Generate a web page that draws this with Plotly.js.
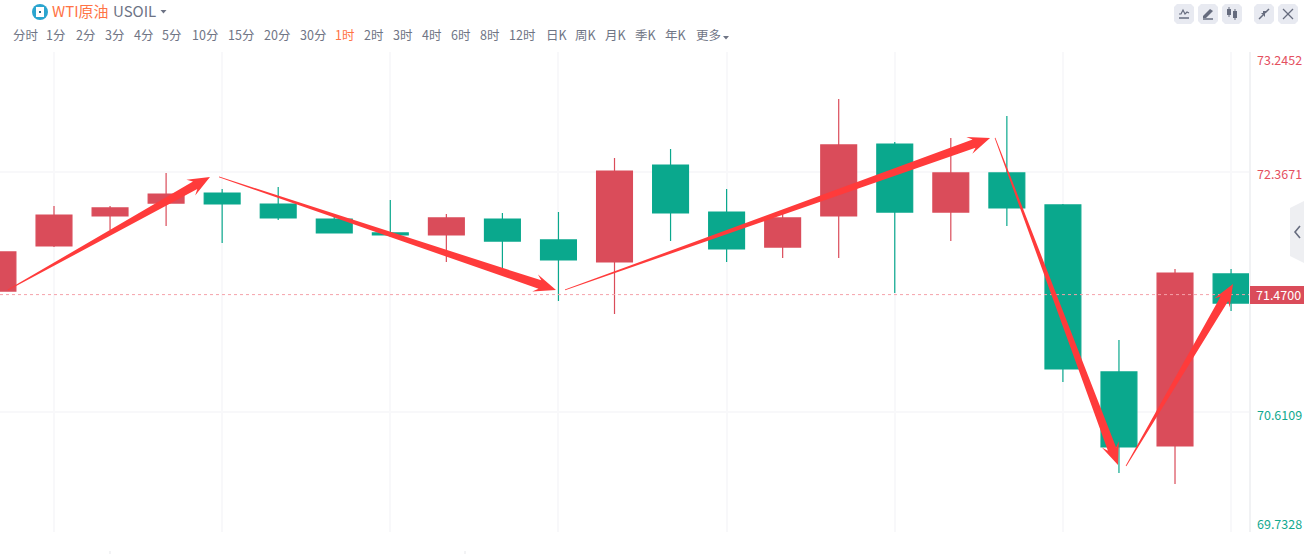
<!DOCTYPE html>
<html><head><meta charset="utf-8">
<script src="https://cdn.plot.ly/plotly-3.0.1.min.js"></script>
<style>html,body{margin:0;padding:0;background:#fff;overflow:hidden}#c{width:1304px;height:554px}</style>
</head><body><div id="c"></div>
<script>
// ---- data ----
const candleIndex = [0,1,2,3,4,5,6,7,8,9,10,11,12,13,14,15,16,17,18,19,20,21,22];
const opens  = [71.496,71.826,72.045,72.140,72.213,72.133,72.023,71.921,71.906,72.023,71.870,71.709,72.418,72.074,71.818,72.045,72.572,72.074,72.360,72.126,70.904,70.362,71.621];
const closes = [71.782,72.052,72.104,72.206,72.133,72.031,71.921,71.906,72.031,71.862,71.723,72.374,72.067,71.804,72.031,72.565,72.074,72.360,72.104,70.926,70.355,71.628,71.408];
const highs  = [71.782,72.118,72.118,72.360,72.243,72.257,72.052,72.162,72.060,72.067,72.074,72.470,72.535,72.243,72.089,72.901,72.587,72.616,72.777,72.133,71.138,71.657,71.657];
const lows   = [71.496,71.818,71.943,71.972,71.848,72.016,71.921,71.891,71.709,71.665,71.423,71.328,71.862,71.709,71.738,71.738,71.482,71.862,71.972,70.830,70.165,70.084,71.350];
const priceTicks = [73.2452,72.3671,70.6109,69.7328];
const priceLabels = ["73.2452","72.3671","70.6109","69.7328"];
const lastPrice = 71.47;
const gridX = [1,4,7,10,13,16,19,22];
const tabs = ["分时","1分","2分","3分","4分","5分","10分","15分","20分","30分","1时","2时","3时","4时","6时","8时","12时","日K","周K","月K","季K","年K","更多"];
const arrowFromX = [0.179,3.944,10.117,17.789,20.126];
const arrowFromY = [71.504,72.331,71.504,72.616,70.216];
const arrowToX   = [3.783,9.956,17.70,19.983,22.035];
const arrowToY   = [72.331,71.504,72.616,70.223,71.547];

// ---- layout helpers ----
const W=1304,H=554,L=0,R=1249,T=52,B=532;
const xMin=0.0366,xMax=22.32,yMin=69.7328,yMax=73.2452;
const px=i=>L+(i-xMin)/(xMax-xMin)*(R-L), py=v=>B-(v-yMin)/(yMax-yMin)*(B-T);
const ix=p=>xMin+(p-L)/(R-L)*(xMax-xMin), iy=p=>yMin+(B-p)/(B-T)*(yMax-yMin);
const ppx=x=>(x-L)/(R-L), ppy=y=>(B-y)/(B-T);
const pth=(pts,close)=>pts.map((p,i)=>(i?'L':'M')+ppx(p[0]).toFixed(5)+' '+ppy(p[1]).toFixed(5)).join(' ')+(close?' Z':'');
const shapes=[],ann=[];
const RED='#da4c5a',GREEN='#0aa88d',ICON='#666c7e',BTN='#e8eaf1';
const FONT='"Noto Sans CJK SC","Noto Sans",sans-serif';

// last price line + tag
shapes.push({type:'line',xref:'paper',yref:'y',x0:0,x1:1,y0:lastPrice,y1:lastPrice,line:{color:'#f5a3ab',width:1,dash:'3px,3px'},layer:'above'});
shapes.push({type:'rect',xref:'paper',yref:'paper',x0:ppx(1250),x1:ppx(1304),y0:ppy(304),y1:ppy(286),fillcolor:RED,line:{width:0},layer:'above'});
ann.push({xref:'paper',yref:'paper',x:ppx(1278),y:ppy(294),text:lastPrice.toFixed(4),showarrow:false,xanchor:'center',yanchor:'middle',font:{family:FONT,size:12.5,color:'#fff'}});

// axis labels
const labelShift=[-7,-1,-2,9];
priceTicks.forEach((v,i)=>ann.push({xref:'paper',yref:'y',x:ppx(1254.5),y:v,yshift:labelShift[i],text:priceLabels[i],showarrow:false,xanchor:'left',yanchor:'middle',
  font:{family:FONT,size:12.5,color:v>lastPrice?'#e4505f':'#12a98f'}}));

// arrows
arrowFromX.forEach((_,i)=>{
  const x0=px(arrowFromX[i]),y0=py(arrowFromY[i]),x1=px(arrowToX[i]),y1=py(arrowToY[i]);
  const d=Math.hypot(x1-x0,y1-y0),ux=(x1-x0)/d,uy=(y1-y0)/d,nx=-uy,ny=ux;
  const headLen=22,neck=4.4,back=9,tail=0.4;
  const at=(t,s)=>[x0+ux*t+nx*s,y0+uy*t+ny*s];
  const poly=[at(0,tail),at(d-headLen+5,neck),at(d-headLen,back),at(d,0),at(d-headLen,-back),at(d-headLen+5,-neck),at(0,-tail)];
  shapes.push({type:'path',xref:'x',yref:'y',layer:'above',fillcolor:'#ff3b3b',line:{width:0},
    path:poly.map((p,k)=>(k?'L':'M')+ix(p[0]).toFixed(4)+' '+iy(p[1]).toFixed(4)).join(' ')+' Z'});
});

// header
shapes.push({type:'circle',xref:'paper',yref:'paper',x0:ppx(32),x1:ppx(48),y0:ppy(20),y1:ppy(4),fillcolor:'#2ba5cf',line:{width:0},layer:'above'});
shapes.push({type:'rect',xref:'paper',yref:'paper',x0:ppx(36),x1:ppx(44),y0:ppy(17),y1:ppy(7),fillcolor:'#fff',line:{width:0},layer:'above'});
shapes.push({type:'rect',xref:'paper',yref:'paper',x0:ppx(39),x1:ppx(41),y0:ppy(13),y1:ppy(11),fillcolor:'#2b6f8f',line:{width:0},layer:'above'});
const txt=(x,y,t,size,color,anchor)=>ann.push({xref:'paper',yref:'paper',x:ppx(x),y:ppy(y),text:t,showarrow:false,xanchor:anchor||'left',yanchor:'middle',font:{family:FONT,size:size,color:color}});
txt(49.5,10,'WTI原油',15,'#ff7345');
txt(111,10,'USOIL',15,'#6d7385');
const tri=(x,y,w,h,c)=>shapes.push({type:'path',xref:'paper',yref:'paper',layer:'above',fillcolor:c,line:{width:0},path:pth([[x,y],[x+w,y],[x+w/2,y+h]],true)});
tri(160.5,10,6,3.5,'#6d7385');
const tabCenters=[25.5,56,85,114,143,172,204.5,241,277,312.5,345,374,403,432,461,490,522.5,556.5,586,616,646,676,708.5];
tabs.forEach((t,i)=>txt(tabCenters[i],34.5,t,12.5,t==='1时'?'#ff7345':'#6f7585','center'));
tri(723,36,6,3.5,'#6f7585');

// toolbar buttons
[1174,1198,1222,1254,1278].forEach(x=>shapes.push({type:'path',xref:'paper',yref:'paper',layer:'above',fillcolor:BTN,line:{width:0},
  path:pth([[x+3,4],[x+17,4],[x+20,7],[x+20,21],[x+17,24],[x+3,24],[x,21],[x,7]],true)}));
const stroke=(pts,w)=>shapes.push({type:'path',xref:'paper',yref:'paper',layer:'above',line:{color:ICON,width:w||1},path:pth(pts,false)});
const fill=(pts)=>shapes.push({type:'path',xref:'paper',yref:'paper',layer:'above',fillcolor:ICON,line:{width:0},path:pth(pts,true)});
stroke([[1179,18],[1189,18]],1.5); stroke([[1179,14],[1181,14],[1183,10],[1185,14],[1187,12],[1189,13]],1.2);
fill([[1203,16],[1210,9],[1213,11],[1206,18],[1203,18]]); stroke([[1203,19],[1213,19]],1.5);
fill([[1227,9],[1231,9],[1231,15],[1227,15]]); stroke([[1229,7],[1229,17]],1); fill([[1233,11],[1237,11],[1237,18],[1233,18]]); stroke([[1235,9],[1235,20]],1);
stroke([[1259,19],[1263,15]],1.5); fill([[1261,13],[1265,13],[1265,17]]); stroke([[1269,9],[1265,13]],1.5); fill([[1267,11],[1263,11],[1263,15]]);
stroke([[1283,9],[1293,19]],1.2); stroke([[1293,9],[1283,19]],1.2);

// collapse handle
shapes.push({type:'path',xref:'paper',yref:'paper',layer:'above',fillcolor:'#eeeff2',line:{width:0},path:pth([[1304,201],[1290,208],[1290,256],[1304,263]],true)});
stroke([[1300,226],[1295,232],[1300,238]],1.6);

// faint marks under the chart
stroke([[110,551],[110,554]],1); shapes[shapes.length-1].line.color='#e6e7ea';
stroke([[465,551],[465,554]],1); shapes[shapes.length-1].line.color='#e6e7ea';

const trace={type:'candlestick',x:candleIndex,open:opens,high:highs,low:lows,close:closes,
  increasing:{line:{color:RED,width:1.2},fillcolor:RED},decreasing:{line:{color:GREEN,width:1.2},fillcolor:GREEN},
  whiskerwidth:0,hoverinfo:'skip',showlegend:false};
const layout={width:W,height:H,margin:{l:L,r:W-R,t:T,b:H-B,pad:0},paper_bgcolor:'#fff',plot_bgcolor:'#fff',showlegend:false,boxgap:0.36,boxgroupgap:0,
  xaxis:{range:[xMin,xMax],tickmode:'array',tickvals:gridX,ticktext:gridX.map(()=>''),showgrid:true,gridcolor:'#f8f8fa',gridwidth:2,zeroline:false,showline:false,ticks:'',rangeslider:{visible:false},fixedrange:true},
  yaxis:{range:[yMin,yMax],tickmode:'array',tickvals:priceTicks,ticktext:priceTicks.map(()=>''),side:'right',showgrid:true,gridcolor:'#f8f8fa',gridwidth:2,zeroline:false,showline:true,linecolor:'#f1f2f4',linewidth:2,mirror:false,ticks:'',fixedrange:true},
  shapes:shapes,annotations:ann};
Plotly.newPlot('c',[trace],layout,{displayModeBar:false,staticPlot:true});
</script></body></html>
